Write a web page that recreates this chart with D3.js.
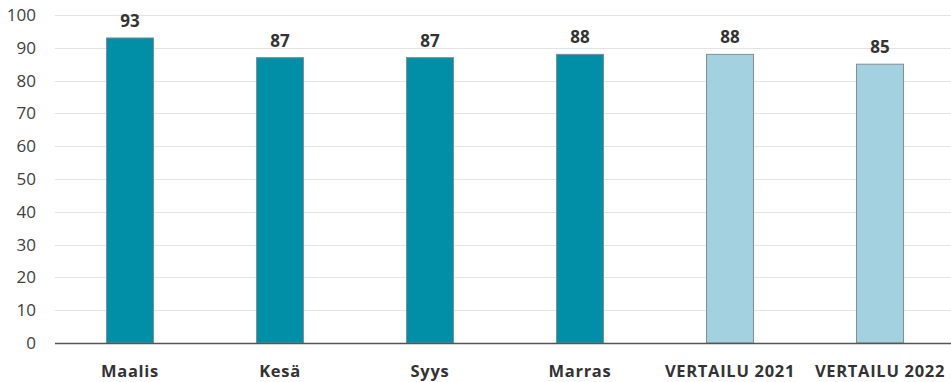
<!DOCTYPE html>
<html>
<head>
<meta charset="utf-8">
<script src="https://cdn.jsdelivr.net/npm/d3@7"></script>
<style>
  body { margin: 0; background: #fff; }
  svg { display: block; font-family: "Open Sans", "Noto Sans", sans-serif; }
</style>
</head>
<body>
<svg id="chart" width="951" height="382"></svg>
<script>
const categories = ["Maalis", "Kesä", "Syys", "Marras", "VERTAILU 2021", "VERTAILU 2022"];
const values = [93, 87, 87, 88, 88, 85];
const comparison = [false, false, false, false, true, true];
const yTicks = [0, 10, 20, 30, 40, 50, 60, 70, 80, 90, 100];

const svg = d3.select("#chart");
const margin = { left: 55, right: -4, top: 15, bottom: 39 };
const W = 951, H = 382;

const x = d3.scaleBand()
  .domain(categories)
  .range([margin.left, W - margin.right])
  .paddingInner(0.687)
  .paddingOuter(0.3435);

const y = d3.scaleLinear()
  .domain([0, 100])
  .range([H - margin.bottom, margin.top]);

// horizontal gridlines
svg.append("g")
  .selectAll("line")
  .data(yTicks.filter(d => d > 0))
  .join("line")
  .attr("x1", margin.left)
  .attr("x2", W)
  .attr("y1", d => Math.round(y(d)) + 0.5)
  .attr("y2", d => Math.round(y(d)) + 0.5)
  .attr("stroke", "#e3e3e3")
  .attr("stroke-width", 1);

// y axis labels
const yAxis = d3.axisLeft(y).tickValues(yTicks).tickSize(0).tickPadding(0);
const gy = svg.append("g")
  .attr("transform", `translate(36,0)`)
  .call(yAxis);
gy.select(".domain").remove();
gy.selectAll("text")
  .attr("font-size", 17)
  .attr("fill", "#404040")
  .attr("font-family", "'Open Sans', 'Noto Sans', sans-serif");

// bars
svg.append("g")
  .selectAll("rect")
  .data(categories)
  .join("rect")
  .attr("x", d => x(d))
  .attr("width", x.bandwidth())
  .attr("y", (d, i) => y(values[i]))
  .attr("height", (d, i) => y(0) - y(values[i]))
  .attr("fill", (d, i) => comparison[i] ? "#a3d1df" : "#008fa6")
  .attr("stroke", "#7d8f95")
  .attr("stroke-width", 1);

// value labels
svg.append("g")
  .selectAll("text")
  .data(categories)
  .join("text")
  .attr("x", d => x(d) + x.bandwidth() / 2)
  .attr("y", (d, i) => y(values[i]) - 11)
  .attr("text-anchor", "middle")
  .attr("font-size", 17)
  .attr("font-weight", 700)
  .attr("fill", "#333")
  .text((d, i) => values[i]);

// x axis baseline
svg.append("line")
  .attr("x1", margin.left)
  .attr("x2", W)
  .attr("y1", Math.round(y(0)) + 0.5)
  .attr("y2", Math.round(y(0)) + 0.5)
  .attr("stroke", "#555")
  .attr("stroke-width", 1.3);

// x axis labels
const xAxis = d3.axisBottom(x).tickSize(0).tickPadding(0);
const gx = svg.append("g")
  .attr("transform", `translate(0,377)`)
  .call(xAxis);
gx.select(".domain").remove();
gx.selectAll("text")
  .attr("dy", 0)
  .attr("font-size", 16.5)
  .attr("font-weight", 700)
  .attr("letter-spacing", "0.7px")
  .attr("fill", "#333")
  .attr("font-family", "'Open Sans', 'Noto Sans', sans-serif");
</script>
</body>
</html>
